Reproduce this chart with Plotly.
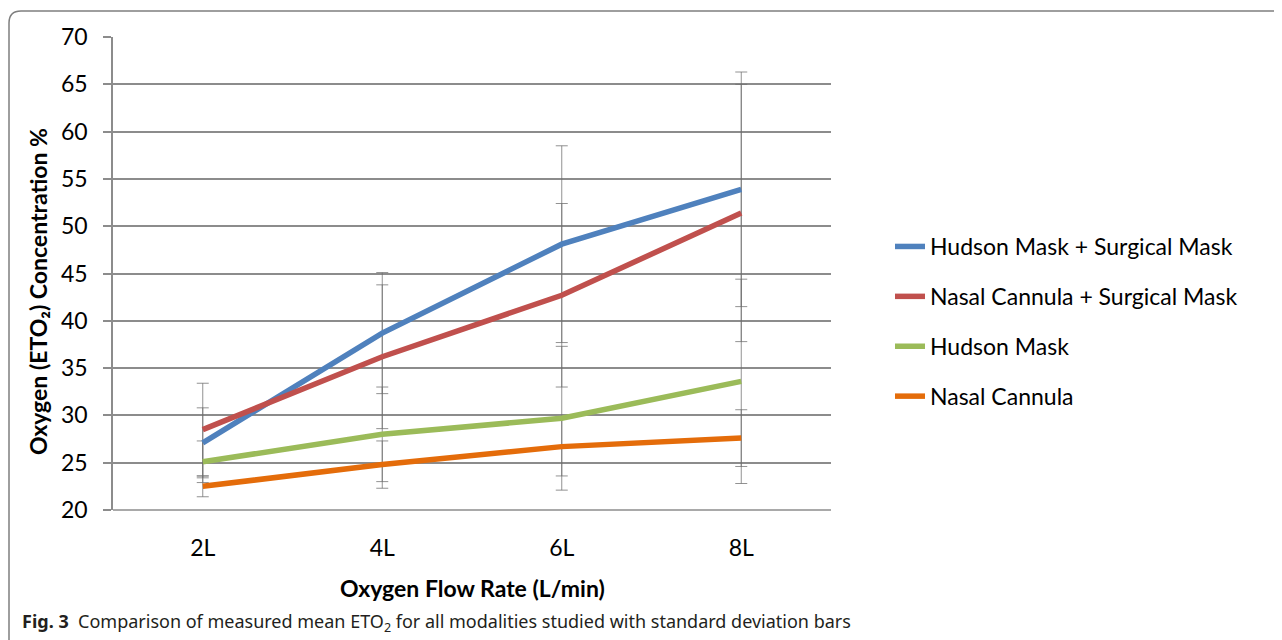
import plotly.graph_objects as go

categories = ["2L", "4L", "6L", "8L"]
series_names = ["Hudson Mask + Surgical Mask", "Nasal Cannula + Surgical Mask", "Hudson Mask", "Nasal Cannula"]
hm_sm = [27.1, 38.7, 48.1, 53.9]
nc_sm = [28.5, 36.2, 42.7, 51.4]
hm = [25.1, 28.0, 29.7, 33.6]
nc = [22.5, 24.8, 26.7, 27.6]
hm_sm_sd = [3.7, 6.4, 10.4, 12.4]
nc_sm_sd = [4.9, 7.6, 9.7, 13.6]
hm_sd = [2.2, 5.0, 7.6, 10.8]
nc_sd = [1.1, 2.5, 3.1, 3.0]
colors = ["#4F81BD", "#C0504D", "#9BBB59", "#E46C0A"]
y_ticks = [20, 25, 30, 35, 40, 45, 50, 55, 60, 65, 70]

values = [hm_sm, nc_sm, hm, nc]
sds = [hm_sm_sd, nc_sm_sd, hm_sd, nc_sd]

OFF = 8  # page body margin
W, H = 1282 - OFF, 640 - OFF
L, R, T, B = 113 - OFF, 831 - OFF, 37 - OFF, 510 - OFF

def px(x):  # screen pixel -> paper
    return (x - OFF - L) / (R - L)

def py(y):
    return (B - (y - OFF)) / (B - T)

FONT = "Lato"
fig = go.Figure()

for vals, sd in zip(values, sds):
    fig.add_trace(go.Scatter(
        x=categories, y=vals, mode="markers",
        marker=dict(size=1, color="rgba(0,0,0,0)"),
        error_y=dict(type="data", array=sd, visible=True,
                     color="rgba(110,110,110,0.75)", thickness=1, width=6),
        showlegend=False, hoverinfo="skip"))

for i, (name, vals) in enumerate(zip(series_names, values)):
    fig.add_trace(go.Scatter(
        x=categories, y=vals, mode="lines", name=name,
        legendgroup=name,
        line=dict(color=colors[i], width=5.5)))

fig.update_layout(
    width=W, height=H,
    margin=dict(l=L, r=W - R, t=T, b=H - B),
    paper_bgcolor="white", plot_bgcolor="white",
    font=dict(family=FONT, size=23, color="#000000"),
    showlegend=True,
    legend=dict(x=px(890), y=py(225), xanchor="left", yanchor="top",
                font=dict(family=FONT, size=23), tracegroupgap=17,
                bgcolor="rgba(0,0,0,0)"),
    xaxis=dict(type="category", range=[-0.5, 3.5], showgrid=False,
               showline=False, ticks="", ticklabelstandoff=22,
               tickfont=dict(family=FONT, size=23)),
    yaxis=dict(range=[20, 70], tickvals=y_ticks, showgrid=True,
               gridcolor="#8C8C8C", gridwidth=1.6, showline=True,
               linecolor="#8C8C8C", linewidth=1.6, ticks="outside",
               ticklen=8, tickcolor="#8C8C8C", tickwidth=1.6,
               ticklabelstandoff=11, zeroline=False,
               tickfont=dict(family=FONT, size=23)),
    annotations=[
        dict(text="<b>Oxygen Flow Rate (L/min)</b>", xref="paper", yref="paper",
             x=px(472), y=py(588), showarrow=False, xanchor="center", yanchor="middle",
             font=dict(family=FONT, size=23)),
        dict(text="<b>Oxygen (ETO₂) Concentration %</b>", xref="paper", yref="paper",
             x=px(38), y=py(292), showarrow=False, textangle=-90,
             xanchor="center", yanchor="middle", font=dict(family=FONT, size=23)),
        dict(text="<b>Fig. 3</b>  Comparison of measured mean ETO<sub>2</sub> for all modalities studied with standard deviation bars",
             xref="paper", yref="paper", x=px(20), y=py(622), showarrow=False,
             xanchor="left", yanchor="middle",
             font=dict(family="Noto Sans", size=18, color="#231F20")),
    ],
    shapes=[
        dict(type="path", xref="paper", yref="paper",
             path=f"M {px(9)} {py(660)} L {px(9)} {py(23)} Q {px(9)} {py(11)} {px(21)} {py(11)} L {px(1300)} {py(11)}",
             line=dict(color="#7F7F7F", width=1.5)),
        dict(type="line", xref="paper", yref="paper", x0=0, x1=1, y0=0, y1=0,
             line=dict(color="#8C8C8C", width=1.6)),
    ],
)

fig.write_html("out.html")
